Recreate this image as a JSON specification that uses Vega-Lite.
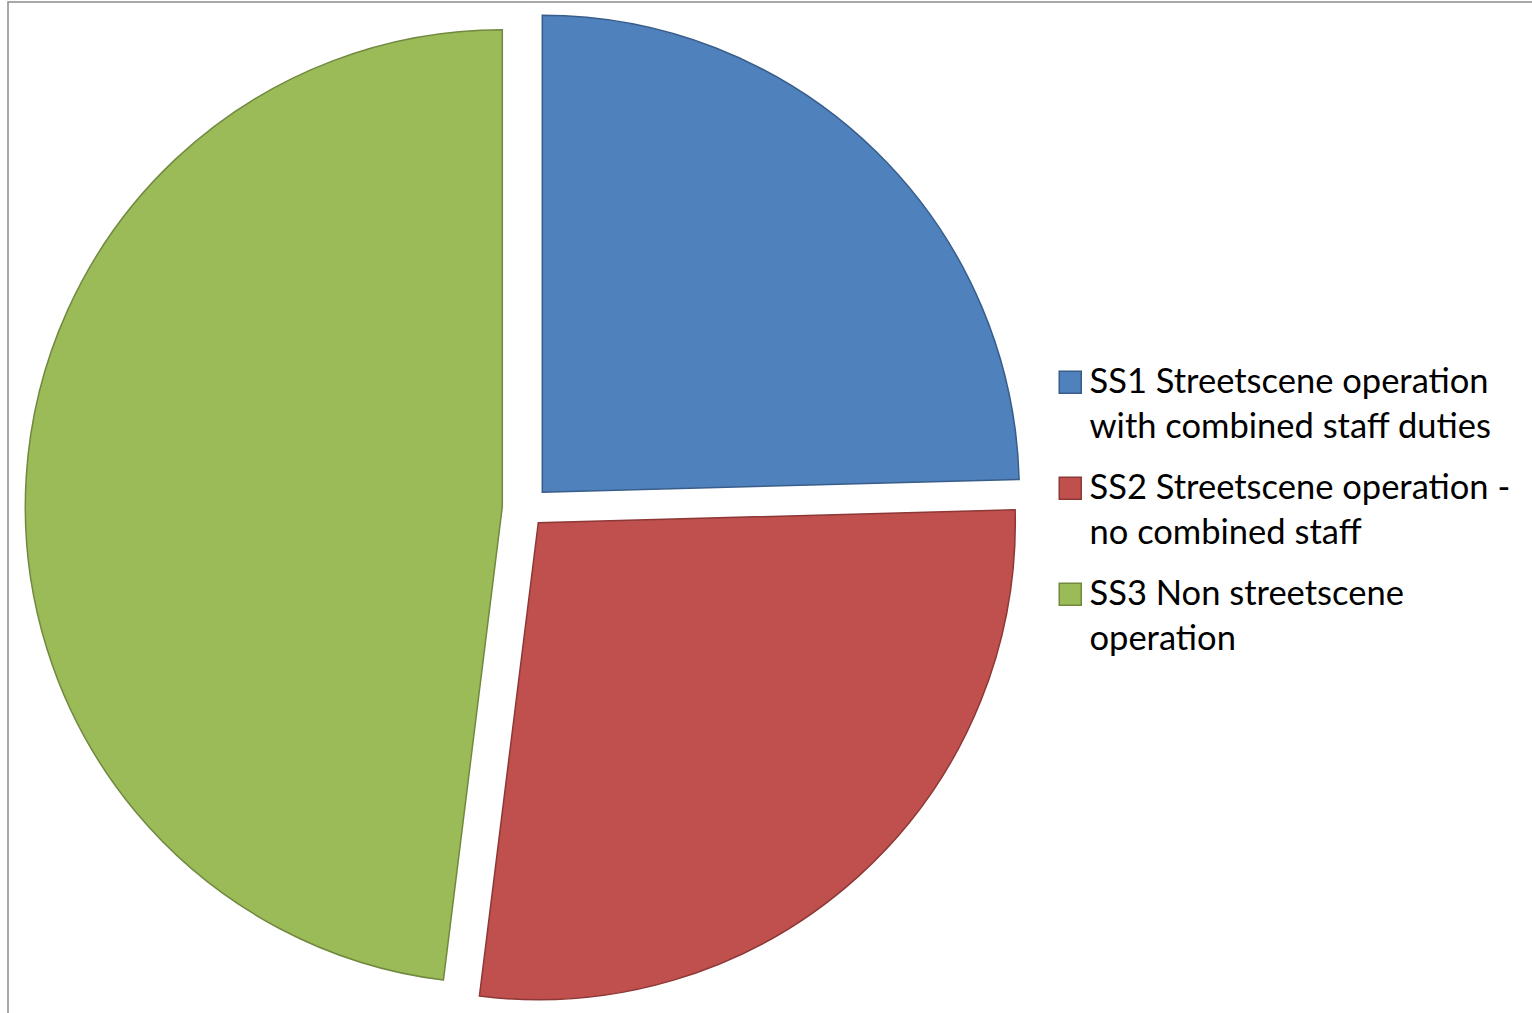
{
  "$schema": "https://vega.github.io/schema/vega-lite/v6.json",
  "width": 1530,
  "height": 1018,
  "autosize": {"type": "none"},
  "padding": {"left": 8, "top": 2, "right": -6, "bottom": -7},
  "view": {"stroke": "#8c8c8c", "strokeWidth": 1.5},
  "config": {
    "view": {"stroke": "#8c8c8c", "strokeWidth": 1.5},
    "font": "Lato"
  },
  "data": {
    "values": [
      {"category": "SS1 Streetscene operation with combined staff duties", "value": 24.57, "order": 1},
      {"category": "SS2 Streetscene operation - no combined staff", "value": 27.40, "order": 2},
      {"category": "SS3 Non streetscene operation", "value": 48.03, "order": 3}
    ]
  },
  "transform": [
    {"stack": "value", "groupby": [], "sort": [{"field": "order"}], "as": ["v0", "v1"]}
  ],
  "encoding": {
    "theta": {"field": "v0", "type": "quantitative", "scale": {"domain": [0, 100], "range": [0, 6.283185307]}},
    "theta2": {"field": "v1"},
    "color": {
      "field": "category", "type": "nominal",
      "scale": {
        "domain": ["SS1 Streetscene operation with combined staff duties", "SS2 Streetscene operation - no combined staff", "SS3 Non streetscene operation"],
        "range": ["#4F81BD", "#C0504D", "#9BBB59"]
      },
      "legend": {
        "title": null,
        "orient": "none",
        "legendX": 1045,
        "legendY": 363,
        "symbolType": "square",
        "symbolSize": 484,
        "symbolStrokeWidth": 1.5,
        "labelFont": "Lato",
        "labelFontSize": 34.5,
        "labelColor": "#000000",
        "labelLimit": 600,
        "labelOffset": 2,
        "rowPadding": 26,
        "labelBaseline": "alphabetic",
        "labelExpr": "datum.label == 'SS1 Streetscene operation with combined staff duties' ? ['SS1 Streetscene operation', 'with combined staff duties'] : datum.label == 'SS2 Streetscene operation - no combined staff' ? ['SS2 Streetscene operation -', 'no combined staff'] : ['SS3 Non streetscene', 'operation']",
        "encode": {
          "labels": {"update": {"lineHeight": {"value": 45}, "dy": {"value": 11}}}
        }
      }
    },
    "stroke": {
      "field": "category", "type": "nominal",
      "scale": {
        "domain": ["SS1 Streetscene operation with combined staff duties", "SS2 Streetscene operation - no combined staff", "SS3 Non streetscene operation"],
        "range": ["#385D8A", "#8C3836", "#71893F"]
      },
      "legend": null
    }
  },
  "layer": [
    {
      "transform": [{"filter": "datum.order == 1"}],
      "mark": {"type": "arc", "radius": 477, "x": 534.3, "y": 490.3, "strokeWidth": 1.5}
    },
    {
      "transform": [{"filter": "datum.order == 2"}],
      "mark": {"type": "arc", "radius": 477, "x": 530.3, "y": 520.7, "strokeWidth": 1.5}
    },
    {
      "transform": [{"filter": "datum.order == 3"}],
      "mark": {"type": "arc", "radius": 477, "x": 494.3, "y": 504.7, "strokeWidth": 1.5}
    }
  ]
}
